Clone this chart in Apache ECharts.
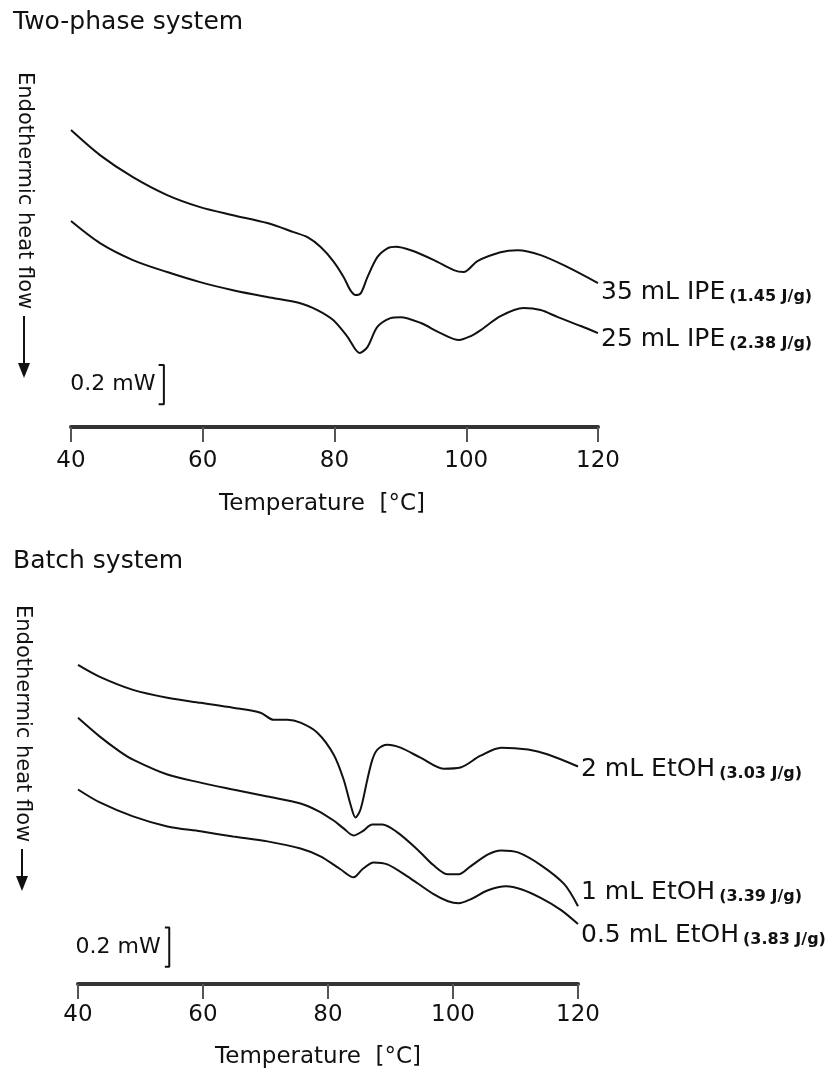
<!DOCTYPE html>
<html>
<head>
<meta charset="utf-8">
<style>
html,body{margin:0;padding:0;background:#fff;}
#chart{width:826px;height:1070px;}
</style>
<script src="https://cdn.jsdelivr.net/npm/echarts@6/dist/echarts.min.js"></script>
</head>
<body>
<div id="chart"></div>
<script>
// ---------- DATA ----------
// x ticks (°C)
const tempTicks = [40, 60, 80, 100, 120];

// Two-phase system (heat flow, mW, arbitrary offset; endothermic down)
const tp35_T = [40.0,44.4,49.4,54.6,59.6,64.6,69.8,73.8,75.9,77.9,79.8,81.4,82.4,83.2,84.0,85.0,86.5,88.1,89.3,91.6,95.1,98.1,99.6,101.7,105.2,107.8,111.3,115.4,120.0];
const tp35_Q = [1.508,1.381,1.269,1.178,1.117,1.076,1.036,0.990,0.964,0.914,0.843,0.761,0.695,0.670,0.680,0.761,0.863,0.909,0.916,0.898,0.848,0.797,0.787,0.843,0.888,0.898,0.873,0.812,0.731];
const tp25_T = [40.0,44.4,49.4,54.6,59.6,64.6,69.8,74.8,77.4,79.8,82.0,83.8,85.0,86.5,88.5,90.0,93.1,96.1,98.9,100.7,102.2,105.2,108.7,111.3,113.9,117.4,120.0];
const tp25_Q = [1.046,0.934,0.848,0.787,0.736,0.695,0.660,0.629,0.594,0.543,0.457,0.376,0.406,0.508,0.553,0.558,0.528,0.477,0.442,0.462,0.492,0.563,0.604,0.594,0.558,0.513,0.477];

// Batch system
const b2_T = [40.0,43.5,48.8,54.3,59.6,64.8,69.2,71.3,73.5,75.6,78.3,80.9,82.5,83.6,84.4,85.2,86.3,87.1,87.9,89.5,91.6,94.8,98.5,101.2,104.4,107.7,112.0,115.2,120.0];
const b2_Q = [1.624,1.563,1.497,1.457,1.431,1.406,1.381,1.345,1.345,1.330,1.279,1.168,1.041,0.914,0.848,0.888,1.041,1.142,1.193,1.218,1.203,1.152,1.096,1.102,1.162,1.203,1.193,1.168,1.107];
const b1_T = [40.0,43.5,46.7,48.8,54.3,59.6,64.8,70.3,75.6,78.3,80.9,82.5,84.1,85.5,87.1,88.7,91.1,94.3,96.9,99.2,100.9,102.8,105.6,107.7,110.4,114.1,117.8,120.0];
const b1_Q = [1.355,1.259,1.183,1.142,1.066,1.025,0.990,0.954,0.919,0.883,0.832,0.792,0.756,0.777,0.812,0.812,0.772,0.685,0.604,0.558,0.558,0.599,0.660,0.680,0.670,0.604,0.508,0.396];
const b05_T = [40.0,43.5,48.8,54.3,59.6,64.8,70.3,75.6,78.8,82.0,84.1,85.5,87.3,89.5,92.7,96.9,99.2,100.9,102.8,105.6,108.5,110.9,114.1,117.3,120.0];
const b05_Q = [0.990,0.924,0.853,0.802,0.777,0.751,0.726,0.690,0.650,0.584,0.543,0.584,0.619,0.609,0.548,0.457,0.421,0.411,0.431,0.477,0.497,0.482,0.437,0.376,0.305];

// labels
const tpNames = ['35 mL IPE', '25 mL IPE'];
const tpEnthalpy = ['(1.45 J/g)', '(2.38 J/g)'];
const bNames = ['2 mL EtOH', '1 mL EtOH', '0.5 mL EtOH'];
const bEnthalpy = ['(3.03 J/g)', '(3.39 J/g)', '(3.83 J/g)'];
const titles = ['Two-phase system', 'Batch system'];
const yName = 'Endothermic heat flow';
const xName = 'Temperature  [°C]';
const scaleText = '0.2 mW';
const scaleSize = 0.2; // mW

// ---------- CHART ----------
const FONT = "'DejaVu Sans', Verdana, sans-serif";
const zip = (a, b) => a.map((v, i) => [v, b[i]]);

function curve(gi, T, Q, name, enth, dy) {
  return {
    type: 'line', xAxisIndex: gi, yAxisIndex: gi, name: name,
    data: zip(T, Q), showSymbol: false, smooth: 0.3,
    lineStyle: { color: '#111', width: 2 },
    endLabel: {
      show: true, distance: 3, offset: [0, dy],
      formatter: '{a|' + name + '}{s| }{b|' + enth + '}',
      rich: {
        a: { fontFamily: FONT, fontSize: 25, color: '#111', verticalAlign: 'bottom', lineHeight: 28 },
        s: { fontFamily: FONT, fontSize: 8, width: 4, verticalAlign: 'bottom', lineHeight: 28 },
        b: { fontFamily: FONT, fontSize: 16, fontWeight: 'bold', color: '#111', verticalAlign: 'bottom', lineHeight: 25 }
      }
    }
  };
}

function scaleBar(gi, xv, tick, y0) {
  return [{
    type: 'line', xAxisIndex: gi, yAxisIndex: gi, silent: true,
    data: [[xv - tick, y0], [xv, y0], [xv, y0 + scaleSize], [xv - tick, y0 + scaleSize]],
    showSymbol: false, lineStyle: { color: '#111', width: 2 }
  }, {
    type: 'scatter', xAxisIndex: gi, yAxisIndex: gi, silent: true,
    data: [[xv, y0 + scaleSize / 2]], symbolSize: 1,
    itemStyle: { color: 'rgba(0,0,0,0)', opacity: 1 },
    label: { show: true, position: 'left', distance: 8, formatter: scaleText,
      fontFamily: FONT, fontSize: 22, color: '#111', opacity: 1 }
  }];
}

function xAxisCfg(gi, margin, nameGap, shift) {
  return {
    type: 'value', gridIndex: gi, min: 40, max: 120, interval: 20,
    axisLine: { show: true, onZero: false, lineStyle: { color: '#333', width: 4 } },
    axisTick: { show: true, length: 15, lineStyle: { color: '#555', width: 2 } },
    axisLabel: { fontFamily: FONT, fontSize: 23, color: '#111', margin: margin,
      formatter: v => tempTicks.includes(v) ? String(v) : '' },
    splitLine: { show: false },
    name: xName, nameLocation: 'middle', nameGap: nameGap,
    nameTextStyle: { fontFamily: FONT, fontSize: 23, color: '#111', padding: [0, shift, 0, 0] }
  };
}

function yLabel(x, y0, tip) {
  return [
    { type: 'text', x: x, y: y0, rotation: -Math.PI / 2,
      style: { text: yName, font: '21px ' + FONT, fill: '#111', textAlign: 'left', textVerticalAlign: 'middle' } },
    { type: 'line', shape: { x1: x, y1: y0 + 244, x2: x, y2: tip - 12 },
      style: { stroke: '#111', lineWidth: 2 } },
    { type: 'polygon', shape: { points: [[x - 6, tip - 15], [x + 6, tip - 15], [x, tip]] },
      style: { fill: '#111' } }
  ];
}

const chart = echarts.init(document.getElementById('chart'), null, { renderer: 'canvas' });
chart.setOption({
  animation: false,
  backgroundColor: '#fff',
  title: [
    { text: titles[0], left: 13, top: 10, padding: 0, textStyle: { fontFamily: FONT, fontSize: 25, fontWeight: 'normal', color: '#111' } },
    { text: titles[1], left: 13, top: 549, padding: 0, textStyle: { fontFamily: FONT, fontSize: 25, fontWeight: 'normal', color: '#111' } }
  ],
  grid: [
    { left: 71, top: 112, width: 527, height: 315 },
    { left: 78, top: 650, width: 500, height: 335 }
  ],
  xAxis: [ xAxisCfg(0, 23, 66, 25), xAxisCfg(1, 20, 62, 20) ],
  yAxis: [
    { type: 'value', gridIndex: 0, min: 0, max: 1.6, show: false },
    { type: 'value', gridIndex: 1, min: 0, max: 1.7, show: false }
  ],
  series: [
    curve(0, tp35_T, tp35_Q, tpNames[0], tpEnthalpy[0], 8),
    curve(0, tp25_T, tp25_Q, tpNames[1], tpEnthalpy[1], 5),
    curve(1, b2_T, b2_Q, bNames[0], bEnthalpy[0], 1),
    curve(1, b1_T, b1_Q, bNames[1], bEnthalpy[1], -15),
    curve(1, b05_T, b05_Q, bNames[2], bEnthalpy[2], 10),
    ...scaleBar(0, 54.1, 0.8, 0.115),
    ...scaleBar(1, 54.6, 0.7, 0.088)
  ],
  graphic: [ ...yLabel(24, 72, 378), ...yLabel(22, 605, 891) ]
});
</script>
</body>
</html>
